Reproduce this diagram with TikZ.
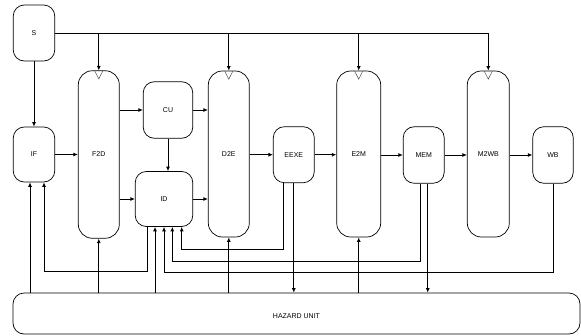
\documentclass[tikz,border=0pt]{standalone}
\usepackage{fontspec}
\setmainfont{Liberation Sans}
\usetikzlibrary{arrows.meta}
\tikzset{
  blk/.style={draw, line width=0.7pt, rounded corners=11pt, inner sep=0pt, font=\fontsize{7}{8}\selectfont},
  reg/.style={blk, rounded corners=14pt},
  wire/.style={line width=1pt},
  arr/.style={wire, -{Latex[length=4.5pt,width=4pt]}},
  clk/.style={draw=black!70, line width=0.5pt}
}
\begin{document}
\begin{tikzpicture}[x=1pt,y=-1pt]
\useasboundingbox (0,0) rectangle (581,335);
% nodes
\node[blk, minimum width=41.5pt, minimum height=56pt] (S) at (34,33) {S};
\node[blk, minimum width=41.5pt, minimum height=55pt] (IF) at (34,154.5) {IF};
\node[reg, minimum width=41pt, minimum height=167.5pt] (F2D) at (98.8,154.5) {F2D};
\node[blk, minimum width=49.5pt, minimum height=56.5pt] (CU) at (168,110) {CU};
\node[blk, minimum width=57.5pt, minimum height=55pt] (ID) at (164,199) {ID};
\node[reg, minimum width=41pt, minimum height=166pt] (D2E) at (228.8,154) {D2E};
\node[blk, minimum width=41pt, minimum height=56pt] (EEXE) at (293.8,154.7) {EEXE};
\node[reg, minimum width=44pt, minimum height=166pt] (E2M) at (358.7,154) {E2M};
\node[blk, minimum width=41pt, minimum height=56.5pt] (MEM) at (423.7,155) {MEM};
\node[reg, minimum width=42pt, minimum height=166pt] (M2WB) at (488.3,154) {M2WB};
\node[blk, minimum width=40.5pt, minimum height=56.5pt] (WB) at (553,155) {WB};
\node[blk, minimum width=567pt, minimum height=41pt, text height=10pt, text depth=0pt] (HZ) at (296.5,313.5) {HAZARD UNIT};
% clock marks
\foreach \r in {F2D,D2E,E2M,M2WB}{
  \draw[clk] ([xshift=-4pt,yshift=-0.6pt]\r.north) -- ([yshift=-8.5pt]\r.north) -- ([xshift=4pt,yshift=-0.6pt]\r.north);
}
% top bus
\draw[arr] (S) -- (IF);
\draw[wire] (S.east) -- (S.east -| F2D.north);
\draw[arr] (S.east) -| (M2WB.north);
\draw[arr] (S.east -| F2D.north) -- (F2D.north);
\draw[arr] (S.east -| D2E.north) -- (D2E.north);
\draw[arr] (S.east -| E2M.north) -- (E2M.north);
% pipeline
\draw[arr] (IF.east) -- (IF.east -| F2D.west);
\draw[arr] (CU.west -| F2D.east) -- (CU.west);
\draw[arr] (ID.west -| F2D.east) -- (ID.west);
\draw[arr] (CU.south) -- (CU.south |- ID.north);
\draw[arr] (CU.east) -- (CU.east -| D2E.west);
\draw[arr] (ID.east) -- (ID.east -| D2E.west);
\draw[arr] (EEXE.west -| D2E.east) -- (EEXE.west);
\draw[arr] (EEXE.east) -- (EEXE.east -| E2M.west);
\draw[arr] (MEM.west -| E2M.east) -- (MEM.west);
\draw[arr] (MEM.east) -- (MEM.east -| M2WB.west);
\draw[arr] (WB.west -| M2WB.east) -- (WB.west);
% bottom coordinates
\coordinate (ifA) at ([xshift=-4pt]IF.south);
\coordinate (ifB) at ([xshift=10pt]IF.south);
\coordinate (idA) at ([xshift=-17pt]ID.south);
\coordinate (idB) at ([xshift=-9pt]ID.south);
\coordinate (idC) at ([xshift=0pt]ID.south);
\coordinate (idD) at ([xshift=8.3pt]ID.south);
\coordinate (idE) at ([xshift=17.7pt]ID.south);
\coordinate (eeA) at ([xshift=-10.5pt]EEXE.south);
\coordinate (memA) at ([xshift=-3.7pt]MEM.south);
\coordinate (memB) at ([xshift=4pt]MEM.south);
\coordinate (yA) at (0,249);
\coordinate (yB) at (0,261);
\coordinate (yC) at (0,272.6);
\coordinate (yD) at (0,271.6);
% hazard unit wiring
\draw[arr] (ifA |- HZ.north) -- (ifA);
\draw[arr] (idA) -- (idA |- yD) -| (ifB);
\draw[arr] (F2D.south |- HZ.north) -- (F2D.south);
\draw[arr] (idB |- HZ.north) -- (idB);
\draw[arr] (WB.south) -- (WB.south |- yC) -| (idC);
\draw[arr] (memA) -- (memA |- yB) -| (idD);
\draw[arr] (eeA) -- (eeA |- yA) -| (idE);
\draw[arr] (D2E.south |- HZ.north) -- (D2E.south);
\draw[arr] (EEXE.south) -- (EEXE.south |- HZ.north);
\draw[arr] (E2M.south |- HZ.north) -- (E2M.south);
\draw[arr] (memB) -- (memB |- HZ.north);
\end{tikzpicture}
\end{document}
